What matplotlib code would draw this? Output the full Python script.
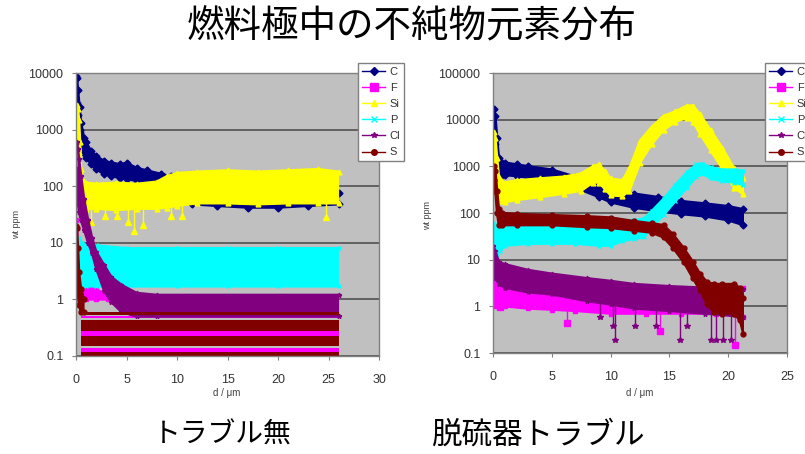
import matplotlib
matplotlib.use("Agg")
import matplotlib.pyplot as plt
import numpy as np
from matplotlib.lines import Line2D
from matplotlib.ticker import NullLocator

plt.rcParams['font.family'] = ['Liberation Sans', 'DejaVu Sans']
JP_FONT = ['Noto Sans CJK JP', 'DejaVu Sans']

TITLE = "燃料極中の不純物元素分布"
SUB_LEFT = "トラブル無"
SUB_RIGHT = "脱硫器トラブル"
X_LABEL = "d / μm"
Y_LABEL = "wt ppm"
ELEMENTS = ["C", "F", "Si", "P", "Cl", "S"]

# ---- left chart: no trouble (depth in um, band limits in wt ppm) ----
l_c_d = [0, 0.1, 0.2, 0.35, 0.5, 0.8, 1, 1.5, 2, 2.8, 3.5, 4.4, 5, 6, 7, 8.4, 9.4, 10, 11.5, 14, 17, 20, 23, 26]
l_c_hi = [9000, 8000, 5000, 2500, 1300, 725, 600, 416, 340, 278, 260, 243, 260, 210, 190, 165, 150, 140, 75, 70, 72, 70, 72, 75]
l_c_lo = [5000, 3000, 1800, 1000, 600, 380, 320, 243, 200, 162, 150, 140, 135, 124, 120, 125, 130, 110, 48, 45, 42, 42, 45, 48]

l_si_d = [0, 0.1, 0.2, 0.3, 0.4, 0.5, 0.7, 1, 2, 4, 6, 8, 9, 10, 12, 15, 18, 21, 24, 26]
l_si_hi = [2500, 2700, 2300, 1500, 600, 200, 130, 115, 110, 115, 110, 120, 150, 170, 180, 190, 180, 190, 200, 180]
l_si_lo = [700, 900, 700, 400, 150, 80, 50, 40, 40, 38, 40, 40, 42, 45, 50, 50, 48, 50, 50, 50]
l_si_dip_d = [1.5, 2.9, 4.1, 5.1, 5.7, 6.6, 9.4, 10.5, 24.8]
l_si_dip_v = [23, 30, 30, 23, 16, 21, 30, 30, 28]

l_p_d = [0, 0.3, 0.6, 1, 2, 5, 10, 15, 20, 26]
l_p_hi = [12, 12, 10, 9, 9, 8, 8, 8, 8, 8]
l_p_lo = [1.6, 1.7, 1.7, 1.7, 1.7, 1.7, 1.7, 1.7, 1.7, 1.7]

l_cl_d = [0.1, 0.2, 0.3, 0.5, 0.8, 1.2, 1.6, 2, 2.8, 3.5, 4.5, 6, 8, 26]
l_cl_hi = [600, 450, 300, 150, 60, 25, 12, 7, 4, 2.5, 1.8, 1.3, 1.2, 1.2]
l_cl_lo = [200, 50, 35, 25, 17, 10, 6.5, 3.5, 1.4, 0.9, 0.6, 0.5, 0.5, 0.5]

l_f_d = [0, 0.1, 0.2, 0.4, 0.6, 1, 2, 3.2]
l_f_hi = [25, 18, 8, 3, 1.8, 1.7, 1.5, 1.2]
l_f_lo = [10, 5, 2, 1, 1, 1, 1, 1]
l_f_band_lo = [0.12, 0.23, 0.46]
l_f_band_hi = [0.14, 0.28, 0.50]

l_s_d = [0, 0.1, 0.2, 0.3, 0.5, 0.8]
l_s_hi = [20, 18, 8, 3, 1.5, 1.0]
l_s_lo = [3, 2, 1.2, 0.8, 0.6, 0.6]
l_s_band_lo = [0.10, 0.15, 0.28, 0.52]
l_s_band_hi = [0.12, 0.23, 0.43, 0.60]
l_band_d = [0.5, 26]

# ---- right chart: desulfurizer trouble ----
r_c_d = [0, 0.1, 0.2, 0.35, 0.5, 0.8, 1, 2, 3, 5, 7, 9, 10, 12, 14, 16, 18, 20, 21.3]
r_c_hi = [12000, 17000, 12000, 4000, 1500, 1200, 1200, 1100, 1000, 850, 600, 400, 330, 260, 220, 180, 160, 140, 120]
r_c_lo = [2000, 4000, 3000, 1200, 700, 650, 650, 620, 570, 480, 350, 220, 170, 130, 110, 95, 85, 70, 55]

r_f_d = [0, 0.2, 0.5, 1, 3, 5, 7, 10, 13, 16, 19, 21.3]
r_f_hi = [50, 20, 4, 3.2, 3, 2.5, 2.2, 2, 2, 2.2, 2.5, 2.5]
r_f_lo = [1.2, 1, 1, 1, 0.9, 0.85, 0.8, 0.7, 0.7, 0.7, 0.7, 0.6]
r_f_dip_d = [0.6, 6.3, 14.2, 20.6]
r_f_dip_v = [0.95, 0.45, 0.29, 0.15]

r_si_d = [0, 0.1, 0.2, 0.35, 0.5, 0.7, 1, 2, 4, 6, 7.5, 8.5, 9, 9.5, 10, 11, 11.6, 12.5, 13.5, 14.5, 15.5, 16.5, 17, 17.6, 18.5, 19.5, 20.5, 21.3]
r_si_hi = [4000, 5500, 4000, 1500, 600, 500, 450, 500, 550, 600, 700, 1000, 1100, 800, 550, 500, 900, 3500, 7000, 12000, 15000, 20000, 20000, 13000, 6000, 2500, 900, 550]
r_si_lo = [1500, 2000, 1200, 500, 200, 180, 170, 190, 220, 260, 300, 450, 450, 330, 240, 230, 300, 1200, 3000, 6000, 9000, 11000, 9000, 5000, 2200, 900, 350, 250]

r_p_d = [0, 0.3, 0.6, 1, 3, 5, 7, 9, 10, 11, 12, 12.8, 13.5, 14.5, 15.5, 16.5, 17.3, 17.8, 18.5, 19.5, 20.5, 21.3]
r_p_hi = [60, 55, 50, 50, 50, 55, 50, 50, 60, 70, 70, 75, 110, 200, 400, 750, 1100, 1150, 950, 850, 850, 800]
r_p_lo = [15, 12, 15, 20, 22, 22, 22, 20, 20, 25, 28, 30, 50, 90, 180, 350, 600, 700, 550, 480, 450, 400]

r_cl_d = [0, 0.2, 0.5, 1, 3, 5, 8, 10, 12, 15, 18, 21.3]
r_cl_hi = [20, 15, 9, 8, 6, 5, 4, 3.5, 3, 2.7, 2.5, 2.3]
r_cl_lo = [5, 4, 3, 2.5, 2, 1.8, 1.3, 1.1, 0.9, 0.8, 0.7, 0.6]
r_cl_dip_d = [9.1, 10.2, 10.4, 12.1, 13.9, 15.9, 16.5, 18.5, 19.0, 19.6, 20.2]
r_cl_dip_v = [0.6, 0.37, 0.19, 0.37, 0.37, 0.19, 0.37, 0.19, 0.19, 0.19, 0.19]

r_s_d = [0, 0.1, 0.2, 0.35, 0.5, 0.8, 2, 5, 8, 10, 12, 13.5, 14.5, 15.3, 16.2, 17, 17.6, 18.2, 18.8, 19.5, 20.5, 21, 21.3]
r_s_hi = [900, 1000, 800, 300, 120, 100, 95, 90, 85, 80, 67, 60, 55, 35, 18, 9, 5, 3.3, 3, 3, 3, 2.5, 1.5]
r_s_lo = [400, 500, 300, 100, 55, 55, 55, 55, 50, 48, 42, 38, 30, 18, 9, 4, 2.2, 1.1, 0.75, 0.7, 0.7, 0.5, 0.25]

COLORS = {"C": "#000080", "F": "#ff00ff", "Si": "#ffff00",
          "P": "#00ffff", "Cl": "#800080", "S": "#800000"}
MARKERS = {"C": "D", "F": "s", "Si": "^", "P": "x", "Cl": "*", "S": "o"}
# later series are drawn on top, like the spreadsheet does
LAYER = {e: 2 + i for i, e in enumerate(ELEMENTS)}


def band(ax, el, d, lo, hi):
    c = COLORS[el]
    z = LAYER[el]
    ax.fill_between(d, lo, hi, color=c, lw=0, zorder=z)
    for edge in (lo, hi):
        ax.plot(d, edge, color=c, lw=1.8, marker=MARKERS[el], ms=3.5, mec=c, zorder=z + 0.1)


def stripes(ax, el, d, lo_list, hi_list):
    for lo, hi in zip(lo_list, hi_list):
        ax.fill_between(d, lo, hi, color=COLORS[el], lw=0, zorder=LAYER[el])


def dips(ax, el, d, v, band_d, band_lo):
    c = COLORS[el]
    base = np.interp(d, band_d, band_lo)
    ax.vlines(d, v, base, color=c, lw=1, zorder=LAYER[el])
    ax.plot(d, v, ls='none', marker=MARKERS[el], ms=4, color=c, zorder=LAYER[el])


def setup(ax, xmax, ymax):
    ax.set_yscale('log')
    ax.set_xlim(0, xmax)
    ax.set_ylim(0.1, ymax)
    ax.set_facecolor('#c0c0c0')
    ticks = [10.0 ** k for k in range(-1, int(round(np.log10(ymax))) + 1)]
    ax.set_yticks(ticks)
    ax.set_yticklabels(['0.1'] + [str(int(t)) for t in ticks[1:]])
    ax.yaxis.set_minor_locator(NullLocator())
    ax.set_xticks(range(0, xmax + 1, 5))
    ax.grid(axis='y', color='#5a5a5a', lw=1.3, zorder=1)
    ax.set_axisbelow(True)
    for sp in ax.spines.values():
        sp.set_color('#808080')
        sp.set_linewidth(1)
        sp.set_zorder(20)
    ax.tick_params(axis='both', labelsize=9, colors='#808080', labelcolor='#333333', length=3)
    ax.tick_params(axis='x', pad=10)
    ax.tick_params(axis='y', pad=6)


def legend(ax, fig, x, y):
    handles = [Line2D([], [], color=COLORS[e], marker=MARKERS[e], lw=1,
                      ms=6 if e == "F" else 4, mec=COLORS[e]) for e in ELEMENTS]
    leg = ax.legend(handles, ELEMENTS, loc='upper left', bbox_to_anchor=(x, y),
                    bbox_transform=fig.transFigure, fancybox=False, framealpha=1,
                    edgecolor='#808080', fontsize=8, handlelength=2.1, handletextpad=0.4,
                    labelspacing=0.55, borderpad=0.35, borderaxespad=0)
    leg.set_zorder(30)
    for t in leg.get_texts():
        t.set_color('#333333')


fig = plt.figure(figsize=(8.05, 4.54), dpi=100)
W, H = 805, 454
axl = fig.add_axes([76 / W, 1 - 356 / H, 303 / W, 283 / H])
axr = fig.add_axes([493 / W, 1 - 353 / H, 294 / W, 280 / H])

setup(axl, 30, 10000)
band(axl, "C", l_c_d, l_c_lo, l_c_hi)
band(axl, "F", l_f_d, l_f_lo, l_f_hi)
stripes(axl, "F", l_band_d, l_f_band_lo, l_f_band_hi)
band(axl, "Si", l_si_d, l_si_lo, l_si_hi)
dips(axl, "Si", l_si_dip_d, l_si_dip_v, l_si_d, l_si_lo)
band(axl, "P", l_p_d, l_p_lo, l_p_hi)
band(axl, "Cl", l_cl_d, l_cl_lo, l_cl_hi)
band(axl, "S", l_s_d, l_s_lo, l_s_hi)
stripes(axl, "S", l_band_d, l_s_band_lo, l_s_band_hi)
legend(axl, fig, 358 / W, 1 - 63 / H)

setup(axr, 25, 100000)
band(axr, "C", r_c_d, r_c_lo, r_c_hi)
band(axr, "F", r_f_d, r_f_lo, r_f_hi)
dips(axr, "F", r_f_dip_d, r_f_dip_v, r_f_d, r_f_lo)
band(axr, "Si", r_si_d, r_si_lo, r_si_hi)
band(axr, "P", r_p_d, r_p_lo, r_p_hi)
band(axr, "Cl", r_cl_d, r_cl_lo, r_cl_hi)
dips(axr, "Cl", r_cl_dip_d, r_cl_dip_v, r_cl_d, r_cl_lo)
band(axr, "S", r_s_d, r_s_lo, r_s_hi)
legend(axr, fig, 765 / W, 1 - 63 / H)

# axis titles
for x, y in [(17, 225), (428, 215)]:
    fig.text(x / W, 1 - y / H, Y_LABEL, rotation=90, ha='center', va='center',
             fontsize=6.5, color='#404040')
for x in [227, 640]:
    fig.text(x / W, 1 - 393 / H, X_LABEL, ha='center', va='center',
             fontsize=7, color='#404040')

fig.text(412 / W, 1 - 27 / H, TITLE, ha='center', va='center', fontsize=27, family=JP_FONT)
fig.text(222 / W, 1 - 435 / H, SUB_LEFT, ha='center', va='center', fontsize=20, family=JP_FONT)
fig.text(538 / W, 1 - 435 / H, SUB_RIGHT, ha='center', va='center', fontsize=22, family=JP_FONT)

fig.savefig('out.png', dpi=100)
